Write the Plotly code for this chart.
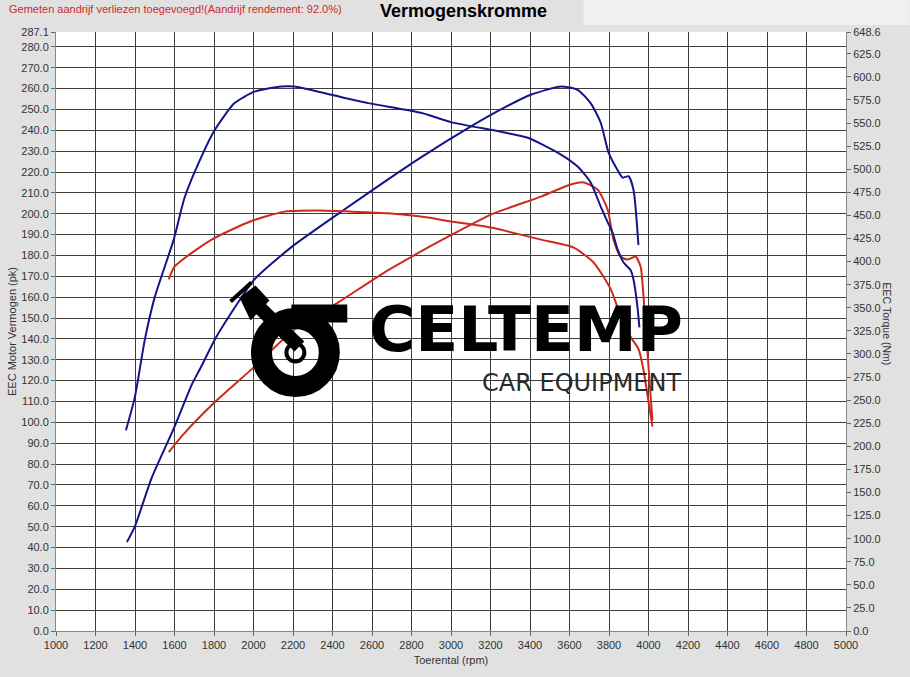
#!/usr/bin/env python3
# -*- coding: utf-8 -*-
"""
Vermogenskromme - dyno curve (vermogen + koppel, voor en na)
"""
import plotly.graph_objects as plot

# ---- data ----
# blauw: vermogen (pk)
blue_power_rpm = [1359, 1399, 1485, 1596, 1687, 1737, 1803, 1874, 2005, 2192, 2460, 2848,
                  3116, 3253, 3404, 3556, 3641, 3707, 3758, 3798, 3843, 3869, 3899, 3924, 3949]
blue_power_pk = [42.6, 50.0, 73.5, 97.0, 118.0, 127.0, 139.5, 150.5, 168.5, 184.0, 202.0, 227.0,
                 242.7, 250.0, 257.0, 261.0, 259.4, 253.0, 243.6, 229.3, 221.0, 217.3, 218.0, 211.5, 185.0]

# blauw: koppel (Nm)
blue_torque_rpm = [1354, 1399, 1450, 1500, 1596, 1652, 1737, 1803, 1904, 2005, 2141, 2207,
                   2394, 2581, 2848, 3000, 3253, 3389, 3540, 3641, 3707, 3758, 3793, 3818, 3843,
                   3874, 3909, 3924, 3944, 3954]
blue_torque_nm = [217.3, 253.0, 315.8, 361.5, 423.8, 469.9, 514.0, 542.2, 571.6, 584.0, 589.6, 589.6,
                  580.6, 571.6, 561.2, 551.0, 540.6, 534.1, 518.0, 502.9, 485.7, 459.5, 442.8, 431.5, 413.4,
                  399.0, 390.8, 380.7, 351.3, 328.7]

# rood: vermogen (pk)
red_power_rpm = [1571, 1636, 1803, 1990, 2207, 2429, 2662, 2848, 2985, 3202, 3455, 3606, 3672,
                 3742, 3793, 3823, 3859, 3894, 3934, 3960, 3975, 3990, 4005, 4020]
red_power_pk = [85.7, 93.3, 109.6, 125.4, 144.5, 157.5, 171.8, 181.9, 189.0, 199.6, 208.2, 214.0, 215.0,
                211.6, 202.0, 187.6, 179.5, 178.0, 179.5, 174.7, 160.0, 140.0, 120.0, 101.0]

# rood: koppel (Nm)
red_torque_rpm = [1571, 1601, 1788, 1990, 2157, 2328, 2500, 2682, 2848, 3000, 3202, 3455, 3621,
                  3722, 3808, 3859, 3909, 3950, 3975, 4000, 4020]
red_torque_nm = [380.7, 394.7, 423.8, 443.9, 454.1, 455.2, 454.1, 452.3, 448.7, 443.5, 436.9, 423.8, 415.2,
                 399.0, 370.5, 341.1, 318.5, 305.0, 282.4, 248.5, 221.4]

# as-ticks
left_ticks = [v * 10 for v in range(29)] + [287.1]
right_ticks = [v * 25 for v in range(26)] + [648.6]

BLUE = "#14148c"
RED = "#cc2a1e"

W, H = 910, 677
L, R, T, B = 54, 64, 32, 45


def px(x, y):
    '''pixel positie in het plaatje -> paper coordinaten'''
    pw = W - L - R
    ph = H - T - B
    return (x - L) / pw, (H - B - y) / ph


fig = plot.Figure()
fig.add_trace(plot.Scatter(x=blue_torque_rpm, y=blue_torque_nm, yaxis="y2", mode="lines",
                           line=dict(color=BLUE, width=2, shape="spline", smoothing=0.6), name="Koppel 1"))
fig.add_trace(plot.Scatter(x=blue_power_rpm, y=blue_power_pk, mode="lines",
                           line=dict(color=BLUE, width=2, shape="spline", smoothing=0.6), name="Vermogen 1"))
fig.add_trace(plot.Scatter(x=red_torque_rpm, y=red_torque_nm, yaxis="y2", mode="lines",
                           line=dict(color=RED, width=2, shape="spline", smoothing=0.6), name="Koppel 2"))
fig.add_trace(plot.Scatter(x=red_power_rpm, y=red_power_pk, mode="lines",
                           line=dict(color=RED, width=2, shape="spline", smoothing=0.6), name="Vermogen 2"))

axfont = dict(family="Arial, Liberation Sans, sans-serif", size=11, color="#333333")

fig.update_layout(
    width=W, height=H,
    margin=dict(l=L, r=R, t=T, b=B),
    paper_bgcolor="#e1e1e1",
    plot_bgcolor="white",
    showlegend=False,
    font=axfont,
    xaxis=dict(range=[1000, 5000], dtick=200, tick0=1000, showgrid=True, gridcolor="#3c3c3c", gridwidth=1,
               ticks="outside", ticklen=4, tickcolor="#666", showline=True, linecolor="#888",
               zeroline=False, tickfont=axfont,
               title=dict(text="Toerental (rpm)", font=axfont, standoff=6)),
    yaxis=dict(range=[0, 287.1], tickvals=left_ticks, ticktext=["%.1f" % v for v in left_ticks],
               showgrid=True, gridcolor="#3c3c3c", gridwidth=1, ticks="outside", ticklen=4,
               tickcolor="#666", showline=True, linecolor="#888", zeroline=False, tickfont=axfont,
               title=dict(text="EEC Motor Vermogen (pk)", font=axfont, standoff=2)),
    yaxis2=dict(range=[0, 648.6], overlaying="y", side="right", tickvals=right_ticks,
                ticktext=["%.1f" % v for v in right_ticks], showgrid=False, ticks="outside", ticklen=4,
                tickcolor="#666", showline=True, linecolor="#888", zeroline=False, tickfont=axfont),
)

# titel en melding
x0, y0 = px(583, 25)
x1, y1 = px(910, 0)
fig.add_shape(type="rect", xref="paper", yref="paper", x0=x0, y0=y0, x1=x1, y1=y1,
              fillcolor="#f0f0f0", line=dict(width=0), layer="below")

tx, ty = px(463, 11)
fig.add_annotation(text="<b>Vermogenskromme</b>", xref="paper", yref="paper", x=tx, y=ty,
                   xanchor="center", yanchor="middle", showarrow=False,
                   font=dict(family="Arial, Liberation Sans, sans-serif", size=18, color="black"))
mx, my = px(5, 9)
fig.add_annotation(text="Gemeten aandrijf verliezen toegevoegd!(Aandrijf rendement: 92.0%)",
                   xref="paper", yref="paper", x=mx, y=my, xanchor="left", yanchor="middle", showarrow=False,
                   font=dict(family="Arial, Liberation Sans, sans-serif", size=11, color="#cc2a2a"))
rx, ry = px(888, 325)
fig.add_annotation(text="EEC Torque (Nm)", xref="paper", yref="paper", x=rx, y=ry, textangle=90,
                   xanchor="center", yanchor="middle", showarrow=False,
                   font=dict(family="Arial, Liberation Sans, sans-serif", size=10.5, color="#333333"))

# CELTEMP logo (overlay)
cx0, cy0 = px(260, 387)
cx1, cy1 = px(328, 319)
fig.add_shape(type="circle", xref="paper", yref="paper", x0=cx0, y0=cy0, x1=cx1, y1=cy1,
              line=dict(color="black", width=21))
bx0, by0 = px(290, 323)
bx1, by1 = px(346, 305)
fig.add_shape(type="rect", xref="paper", yref="paper", x0=bx0, y0=by0, x1=bx1, y1=by1,
              fillcolor="black", line=dict(width=0))
piston = [px(238, 298), px(254, 286), px(268, 301), px(249, 321)]
path = "M " + " L ".join("%.4f,%.4f" % p for p in piston) + " Z"
fig.add_shape(type="path", xref="paper", yref="paper", path=path, fillcolor="black", line=dict(width=0))
c0 = px(229, 302)
c1 = px(250, 283)
fig.add_shape(type="line", xref="paper", yref="paper", x0=c0[0], y0=c0[1], x1=c1[0], y1=c1[1],
              line=dict(color="black", width=4))
r0 = px(258, 308)
r1 = px(298, 347)
fig.add_shape(type="line", xref="paper", yref="paper", x0=r0[0], y0=r0[1], x1=r1[0], y1=r1[1],
              line=dict(color="black", width=14))
i0 = px(285, 362)
i1 = px(303, 344)
fig.add_shape(type="circle", xref="paper", yref="paper", x0=i0[0], y0=i0[1], x1=i1[0], y1=i1[1],
              line=dict(color="black", width=4))

lx, ly = px(525, 330)
fig.add_annotation(text="<b>CELTEMP</b>", xref="paper", yref="paper", x=lx, y=ly,
                   xanchor="center", yanchor="middle", showarrow=False,
                   font=dict(family="DejaVu Sans, sans-serif", size=63, color="black"))
ex, ey = px(683, 384)
fig.add_annotation(text="CAR EQUIPMENT", xref="paper", yref="paper", x=ex, y=ey,
                   xanchor="right", yanchor="middle", showarrow=False,
                   font=dict(family="DejaVu Sans, sans-serif", size=24, color="#2a2a2a"))

fig.write_html("out.html", config={"displayModeBar": False},
               post_script="document.body.style.margin='0px';")
